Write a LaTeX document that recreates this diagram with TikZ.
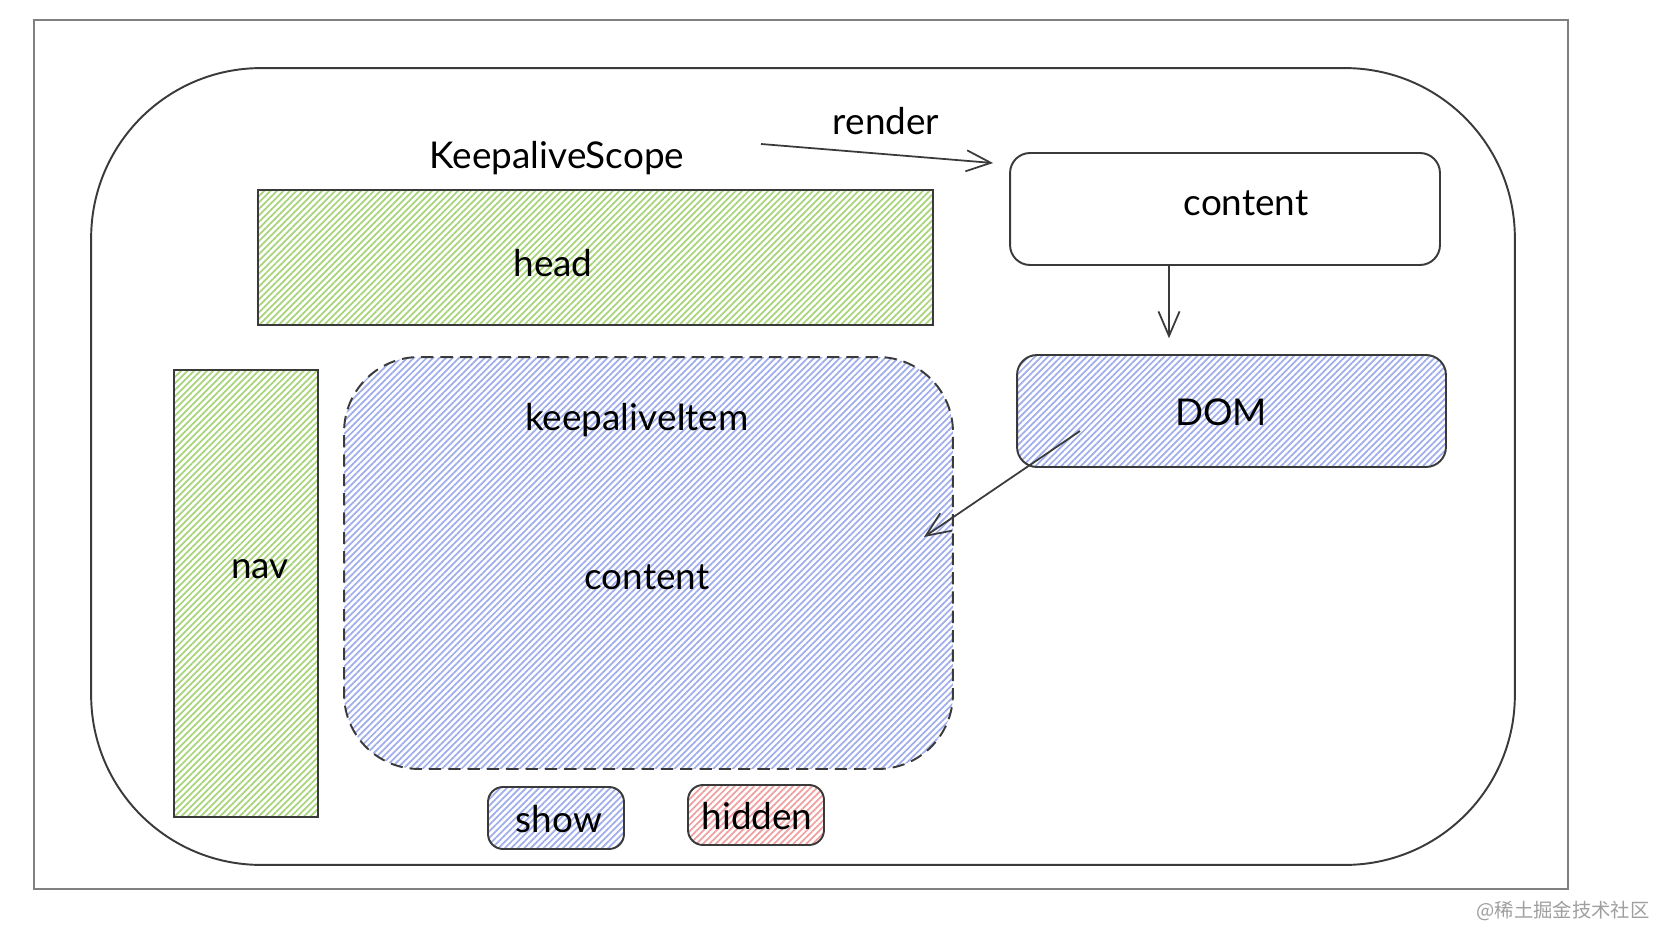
\documentclass[tikz,border=0pt]{standalone}
\usepackage{fontspec}
\setmainfont{Lato}
\newfontfamily\cjk{Noto Sans CJK SC}
\usetikzlibrary{arrows.meta,patterns.meta}
\definecolor{hatchgreen}{HTML}{A8D47A}
\definecolor{hatchblue}{HTML}{A0AEEC}
\definecolor{hatchred}{HTML}{F0A0A0}
\definecolor{inkgray}{HTML}{3A3A3A}
\begin{document}
\begin{tikzpicture}[
        x = .02cm,
        y = -.02cm,
        box/.style = {draw=inkgray, line width=1.1pt, inner sep=0pt},
        hatch/.style = {pattern={Lines[angle=45,distance=2.6pt,line width=1pt]}, pattern color=#1},
        lbl/.style = {font=\fontsize{21}{25}\selectfont, inner sep=1pt},
        arr/.style = {draw=inkgray, line width=1pt, -{Straight Barb[length=14pt,width=12pt]}}
    ]
        \useasboundingbox (0,0) rectangle (1666,946);
        \fill[white] (0,0) rectangle (1666,946);
        % frame and scope
        \node[box, draw=gray, minimum width=30.68cm, minimum height=17.38cm] (frame) at (801,454.5) {};
        \node[box, rounded corners=3.4cm, minimum width=28.48cm, minimum height=15.94cm] (scope) at (803,466.5) {};
        \node[lbl] (scopetext) at (557,158) {KeepaliveScope};
        \node[lbl] (rendertext) at (886,121) {render};
        % left side
        \node[box, hatch=hatchgreen, minimum width=13.5cm, minimum height=2.7cm] (head) at (595.5,257.5) {};
        \node[lbl] (headtext) at (553,263) {head};
        \node[box, hatch=hatchgreen, minimum width=2.88cm, minimum height=8.94cm] (nav) at (246,593.5) {};
        \node[lbl] (navtext) at (260,569) {nav};
        \node[box, hatch=hatchblue, dashed, dash pattern=on 7pt off 4pt, rounded corners=1.5cm,
            minimum width=12.18cm, minimum height=8.24cm] (item) at (648.5,563) {};
        \node[lbl] (itemtext) at (637,420) {keepaliveItem};
        \node[lbl] (itemcontent) at (647,577) {content};
        % legend
        \node[box, hatch=hatchblue, rounded corners=.3cm, minimum width=2.72cm, minimum height=1.24cm] (show) at (556,818) {};
        \node[lbl] (showtext) at (559,819) {show};
        \node[box, hatch=hatchred, rounded corners=.3cm, minimum width=2.72cm, minimum height=1.2cm] (hidden) at (756,815) {};
        \node[lbl] (hiddentext) at (757,816) {hidden};
        % right side
        \node[box, fill=white, rounded corners=.4cm, minimum width=8.6cm, minimum height=2.24cm] (content) at (1225,209) {};
        \node[lbl] (contenttext) at (1246,203) {content};
        \node[box, hatch=hatchblue, rounded corners=.4cm, minimum width=8.58cm, minimum height=2.24cm] (dom) at (1231.5,411) {};
        \node[lbl] (domtext) at (1221,412) {DOM};
        % arrows
        \coordinate (renderfrom) at (761,144);
        \coordinate (renderto) at (993,163);
        \coordinate (domfrom) at (1080,431);
        \coordinate (itemto) at (924,537);
        \draw[arr] (renderfrom) -- (renderto);
        \draw[arr, shorten >=9pt] (content.south -| 1169,0) -- (dom.north -| 1169,0);
        \draw[arr] (domfrom) -- (itemto);
        % watermark
        \node[font=\cjk\fontsize{11}{13}\selectfont, text=gray!75] (mark) at (1563,911) {@稀土掘金技术社区};
    \end{tikzpicture}
\end{document}
